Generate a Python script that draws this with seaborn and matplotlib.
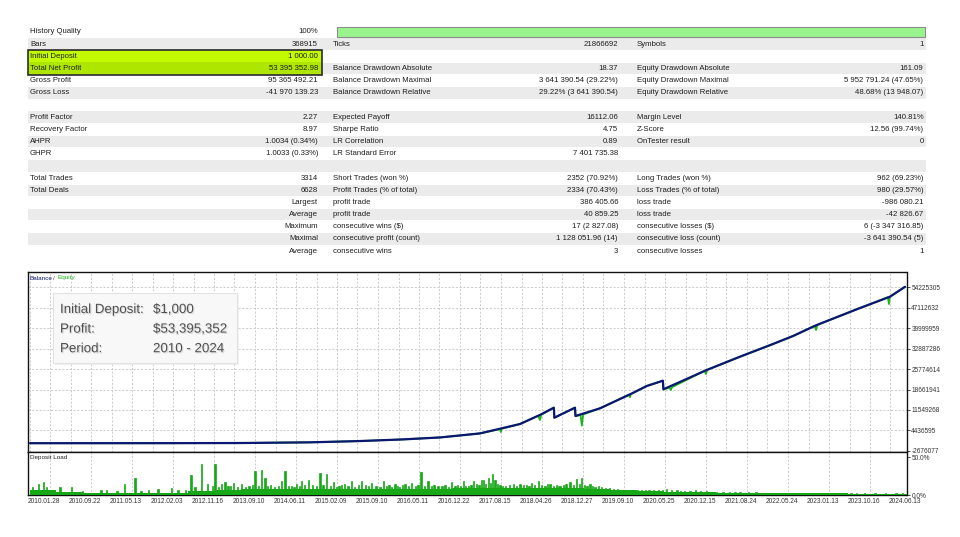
import numpy as np
import pandas as pd
import matplotlib
matplotlib.use("Agg")
import matplotlib.pyplot as plt
import seaborn as sns
from matplotlib.patches import Rectangle
import matplotlib.patheffects as pe

# ---------------- data ----------------
history_quality = 100  # percent

col1_labels = ["History Quality", "Bars", "Initial Deposit", "Total Net Profit", "Gross Profit", "Gross Loss", "",
               "Profit Factor", "Recovery Factor", "AHPR", "GHPR", "", "Total Trades", "Total Deals",
               "", "", "", "", ""]
col1_values = ["100%", "368915", "1 000.00", "53 395 352.98", "95 365 492.21", "-41 970 139.23", "",
               "2.27", "8.97", "1.0034 (0.34%)", "1.0033 (0.33%)", "", "3314", "6628",
               "Largest", "Average", "Maximum", "Maximal", "Average"]
col2_labels = ["", "Ticks", "", "Balance Drawdown Absolute", "Balance Drawdown Maximal", "Balance Drawdown Relative", "",
               "Expected Payoff", "Sharpe Ratio", "LR Correlation", "LR Standard Error", "",
               "Short Trades (won %)", "Profit Trades (% of total)", "profit trade", "profit trade",
               "consecutive wins ($)", "consecutive profit (count)", "consecutive wins"]
col2_values = ["", "21866692", "", "18.37", "3 641 390.54 (29.22%)", "29.22% (3 641 390.54)", "",
               "16112.06", "4.75", "0.89", "7 401 735.38", "",
               "2352 (70.92%)", "2334 (70.43%)", "386 405.66", "40 859.25",
               "17 (2 827.08)", "1 128 051.96 (14)", "3"]
col3_labels = ["", "Symbols", "", "Equity Drawdown Absolute", "Equity Drawdown Maximal", "Equity Drawdown Relative", "",
               "Margin Level", "Z-Score", "OnTester result", "", "",
               "Long Trades (won %)", "Loss Trades (% of total)", "loss trade", "loss trade",
               "consecutive losses ($)", "consecutive loss (count)", "consecutive losses"]
col3_values = ["", "1", "", "161.09", "5 952 791.24 (47.65%)", "48.68% (13 948.07)", "",
               "140.81%", "12.56 (99.74%)", "0", "", "",
               "962 (69.23%)", "980 (29.57%)", "-986 080.21", "-42 826.67",
               "6 (-3 347 316.85)", "-3 641 390.54 (5)", "1"]

box_labels = ["Initial Deposit:", "Profit:", "Period:"]
box_values = ["$1,000", "$53,395,352", "2010 - 2024"]

total_trades = 3314

balance_trade = [0, 265, 530, 795, 1060, 1250, 1408, 1553, 1704, 1856, 1931, 1984, 1986, 2064, 2066,
                 2159, 2273, 2336, 2397, 2399, 2563, 2689, 2814, 2890, 2980, 3131, 3257, 3314]
balance_value = [1000, 3000, 12000, 60000, 300000, 750000, 1300000, 2000000, 3400000, 6680000, 9810000,
                 12350000, 8870000, 12350000, 9460000, 12140000, 17010000, 19900000, 21740000, 18750000,
                 25460000, 30090000, 34500000, 37290000, 41110000, 46570000, 50950000, 54396353]

equity_trade = [0, 265, 530, 795, 1060, 1250, 1408, 1553, 1704, 1780, 1783, 1786, 1856, 1925, 1931, 1937,
                1984, 1986, 2064, 2066, 2085, 2090, 2095, 2159, 2268, 2272, 2276, 2336, 2397, 2399, 2422,
                2427, 2432, 2555, 2560, 2565, 2689, 2814, 2890, 2972, 2977, 2982, 3131, 3249, 3253, 3257,
                3314]
equity_value = [1000, 3000, 12000, 60000, 300000, 750000, 1300000, 2000000, 3400000, 4900000, 3900000,
                5000000, 6680000, 9600000, 8070000, 9900000, 12350000, 8870000, 12350000, 9460000, 9800000,
                6100000, 10000000, 12140000, 16900000, 15970000, 17100000, 19900000, 21740000, 18750000,
                19300000, 18500000, 19500000, 25200000, 24070000, 25500000, 30090000, 34500000, 37290000,
                40900000, 39370000, 41150000, 46570000, 50800000, 48400000, 50950000, 54396353]

balance_ticks = [-2676077, 4436595, 11549268, 18661941, 25774614, 32887286, 39999959, 47112632, 54225305]

date_labels = ["2010.01.28", "2010.09.22", "2011.05.13", "2012.02.03", "2012.11.16", "2013.09.10",
               "2014.06.11", "2015.02.09", "2015.09.10", "2016.05.11", "2016.12.22", "2017.08.15",
               "2018.04.26", "2018.12.27", "2019.09.10", "2020.05.25", "2020.12.15", "2021.08.24",
               "2022.05.24", "2023.01.13", "2023.10.16", "2024.06.13"]

# deposit load: base level per 100-trade block, plus individual spikes (percent)
load_base_trade = list(range(0, 3400, 100))
load_base_pct = [6, 3.5, 3, 2.5, 2.5, 3, 5, 7, 8, 8, 8.5, 8.5, 8.5, 8.5, 8.5, 8.5, 9, 9.5, 9.5, 9.5,
                 9.5, 8.5, 6, 5, 4, 3.5, 3, 2.5, 2.5, 2, 2, 1.8, 1.6, 1.5]
load_spike_trade = [10, 31, 50, 63, 90, 114, 158, 200, 269, 290, 330, 357, 398, 420, 450, 485, 537, 560,
                    590, 610, 625, 650, 673, 690, 701, 715, 726, 738, 750, 760, 770, 785, 800, 815, 830,
                    842, 852, 865, 877, 890, 900, 910, 925, 940, 953, 966, 978, 990, 1000, 1010, 1020,
                    1029, 1040, 1054, 1070, 1085, 1098, 1110, 1124, 1137, 1149, 1160, 1170, 1180, 1190,
                    1205, 1218, 1230, 1243, 1256, 1270, 1282, 1294, 1310, 1325, 1338, 1350, 1360, 1370,
                    1382, 1392, 1400, 1410, 1420, 1433, 1445, 1460, 1470, 1481, 1495, 1508, 1520, 1530,
                    1545, 1560, 1572, 1585, 1597, 1610, 1620, 1630, 1641, 1650, 1660, 1670, 1679, 1690,
                    1700, 1711, 1717, 1725, 1736, 1744, 1751, 1761, 1770, 1780, 1790, 1800, 1815, 1830,
                    1843, 1856, 1868, 1880, 1890, 1900, 1912, 1925, 1937, 1950, 1960, 1970, 1982, 1995,
                    2003, 2010, 2020, 2030, 2045, 2058, 2070, 2080, 2089, 2100, 2110, 2121, 2130, 2140,
                    2152, 2165, 2180, 2195, 2210, 2225, 2240, 2255, 2272, 2285, 2300, 2315, 2330, 2345,
                    2361, 2380, 2395, 2411, 2430, 2450, 2465, 2480, 2500, 2520, 2540, 2563, 2580, 2600,
                    2625, 2650, 2670, 2689, 2720, 2750, 2780, 2810, 2840, 2870, 2900, 2930, 2960, 3000,
                    3030, 3050, 3080, 3110, 3131, 3160, 3200, 3240, 3280, 3305]
load_spike_pct = [10, 14, 17, 11, 6, 11, 11, 5, 7, 6, 5, 14, 22, 5, 6, 8, 9, 7,
                  6, 26, 10, 41, 14, 12, 41, 11, 15, 17, 12, 12, 16, 11, 14, 11, 12,
                  13, 32, 12, 33, 22, 12, 13, 11, 12, 18, 31, 12, 12, 11, 15, 12,
                  18, 13, 20, 13, 12, 29, 13, 28, 12, 17, 11, 12, 13, 14,
                  12, 18, 11, 13, 19, 13, 12, 16, 12, 11, 18, 12, 13, 11,
                  15, 12, 11, 13, 14, 12, 16, 12, 13, 30, 12, 18, 12, 13,
                  12, 12, 13, 11, 17, 12, 13, 12, 19, 12, 12, 13, 18, 15,
                  13, 20, 20, 14, 22, 16, 28, 20, 14, 13, 12, 12, 13, 14,
                  12, 14, 13, 13, 12, 16, 13, 18, 13, 12, 14, 14, 12, 13,
                  12, 12, 13, 15, 17, 13, 21, 14, 23, 13, 12, 14, 12, 10,
                  12, 10, 9, 9, 8, 8, 7, 7, 7, 6, 6, 6, 7, 6,
                  7, 6, 6, 8, 6, 6, 5, 5, 5, 6, 5, 5, 4.5, 4.5,
                  4, 4, 4, 3.5, 3.5, 3.5, 3, 3, 2.5, 3, 3, 3, 2.8, 3,
                  2.5, 2.5, 2.5, 2.4, 2.5, 2.3, 2.5, 2.2, 2.5, 2.2]

# ---------------- style ----------------
sns.set_theme(style="white")
plt.rcParams['font.family'] = ['Liberation Sans', 'DejaVu Sans']

W, H = 960, 537
fig = plt.figure(figsize=(9.6, 5.37), dpi=100)
fig.patch.set_facecolor('white')

def fx(px):
    return px / W

def fy(py):
    return 1 - py / H

L, R = 28, 906.5
T_MAIN, B_MAIN, B_DEP = 272, 452, 495
T0_PX, T1_PX = 30, 905

def px2t(px):
    return (px - T0_PX) * total_trades / (T1_PX - T0_PX)

ax = fig.add_axes([fx(L), fy(B_MAIN), fx(R) - fx(L), (B_MAIN - T_MAIN) / H])
axd = fig.add_axes([fx(L), fy(B_DEP), fx(R) - fx(L), (B_DEP - B_MAIN) / H])
ov = fig.add_axes([0, 0, 1, 1], zorder=10)
ov.set_xlim(0, W)
ov.set_ylim(H, 0)
ov.axis('off')
ov.patch.set_alpha(0)

GRID = '#c4c4c4'
TXT = '#1e1e1e'
green_eq = '#1fb51f'
navy = '#0b1770'
load_green = '#16a816'

# ---------------- main balance / equity ----------------
df_eq = pd.DataFrame({'trade': equity_trade, 'value': equity_value})
df_bal = pd.DataFrame({'trade': balance_trade, 'value': balance_value})
sns.lineplot(data=df_eq, x='trade', y='value', ax=ax, color=green_eq, lw=1.3, estimator=None, sort=False, zorder=3)
sns.lineplot(data=df_bal, x='trade', y='value', ax=ax, color=navy, lw=1.6, estimator=None, sort=False, zorder=4)
ax.set_xlim(px2t(L), px2t(R))
ax.set_ylim(-3.06e6, 59.55e6)
ax.set_xlabel('')
ax.set_ylabel('')
ax.set_xticks([])
ax.set_yticks(balance_ticks)
ax.set_yticklabels([str(v) for v in balance_ticks])
ax.yaxis.tick_right()
ax.tick_params(axis='y', labelsize=4.7, length=2, width=0.6, pad=1.5, colors='#333333', direction='out')
for v in balance_ticks[1:]:
    ax.axhline(v, color=GRID, lw=0.6, ls=(0, (2.5, 2)), zorder=1)
k = 0
while 29.5 + 20.5 * k < R:
    ax.axvline(px2t(29.5 + 20.5 * k), color=GRID, lw=0.6, ls=(0, (2.5, 2)), zorder=1)
    k += 1
for s in ax.spines.values():
    s.set_color('#111111')
    s.set_linewidth(1.0)
    s.set_visible(True)

# ---------------- deposit load ----------------
axd.bar(load_base_trade, load_base_pct, width=100, align='edge', color=load_green, lw=0, zorder=3)
axd.bar(load_spike_trade, load_spike_pct, width=5, color=load_green, edgecolor=load_green, lw=0.5, zorder=3)
axd.set_xlim(px2t(L), px2t(R))
axd.set_ylim(0, 56.6)
axd.set_yticks([0, 50])
axd.set_yticklabels(["0.0%", "50.0%"])
axd.yaxis.tick_right()
axd.tick_params(axis='y', labelsize=4.7, length=2, width=0.6, pad=1.5, colors='#333333')
tick_pos = [px2t(44 + 41 * i) for i in range(len(date_labels))]
axd.set_xticks(tick_pos)
axd.set_xticklabels(date_labels)
axd.tick_params(axis='x', labelsize=4.7, length=0, pad=2.5, colors='#333333')
for i in range(len(date_labels)):
    p = 50 + 41 * i
    if p < R:
        axd.axvline(px2t(p), color=GRID, lw=0.6, ls=(0, (2.5, 2)), zorder=1)
for s in axd.spines.values():
    s.set_color('#111111')
    s.set_linewidth(1.0)
    s.set_visible(True)

# panel captions
ov.text(30, 278, "Balance", fontsize=4.6, color=navy, va='center', ha='left')
ov.text(53, 278, "/", fontsize=4.6, color='#555555', va='center', ha='left')
ov.text(57.5, 278, "Equity", fontsize=4.6, color=green_eq, va='center', ha='left')
ov.text(30, 458, "Deposit Load", fontsize=4.6, color='#222222', va='center', ha='left')

# info box
ov.add_patch(Rectangle((54.5, 294.5), 184, 70, fc='#e9e9e9', ec='none', alpha=0.6, zorder=1))
ov.add_patch(Rectangle((53, 293), 184, 70, fc='#f8f8f8', ec='#e2e2e2', lw=0.8, zorder=2))
shadow = [pe.withSimplePatchShadow(offset=(0.8, -0.8), shadow_rgbFace='#9a9a9a', alpha=0.35)]
for i, (lab, val) in enumerate(zip(box_labels, box_values)):
    yy = 310 + i * 19.6
    ov.text(60, yy, lab, fontsize=9.6, color='#4f4f4f', va='center', ha='left', zorder=3, path_effects=shadow)
    ov.text(153, yy, val, fontsize=9.6, color='#4f4f4f', va='center', ha='left', zorder=3, path_effects=shadow)

# ---------------- statistics table ----------------
ROW0, PITCH = 31.9, 12.18
FS = 5.6
for r in range(len(col1_labels)):
    yc = ROW0 + r * PITCH
    if r % 2 == 1:
        ov.add_patch(Rectangle((28, yc - 5.7), 898, 11.4, fc='#ebebeb', ec='none', zorder=1))

# highlighted rows
ov.add_patch(Rectangle((28, ROW0 + 2 * PITCH - 6.1), 294, 12.2, fc='#c2fb00', ec='none', zorder=2))
ov.add_patch(Rectangle((28, ROW0 + 3 * PITCH - 6.1), 294, 12.2, fc='#aee600', ec='none', zorder=2))
ov.add_patch(Rectangle((28, ROW0 + 2 * PITCH - 6.1), 294, 24.4, fc='none', ec='#2a2a2a', lw=1.2, zorder=3))

# history quality bar
ov.add_patch(Rectangle((337, 27), 588 * history_quality / 100, 10, fc='#9af48e', ec='#8c8c8c', lw=0.8, zorder=2))

for r in range(len(col1_labels)):
    yc = ROW0 + r * PITCH
    for lab, val, lx, rx in [(col1_labels[r], col1_values[r], 30, 318),
                             (col2_labels[r], col2_values[r], 333, 618),
                             (col3_labels[r], col3_values[r], 637, 923.5)]:
        if lab:
            ov.text(lx, yc, lab, fontsize=FS, color=TXT, va='center', ha='left', zorder=4)
        if val:
            ov.text(rx, yc, val, fontsize=FS, color=TXT, va='center', ha='right', zorder=4)

fig.savefig("out.png", dpi=100, facecolor='white')
